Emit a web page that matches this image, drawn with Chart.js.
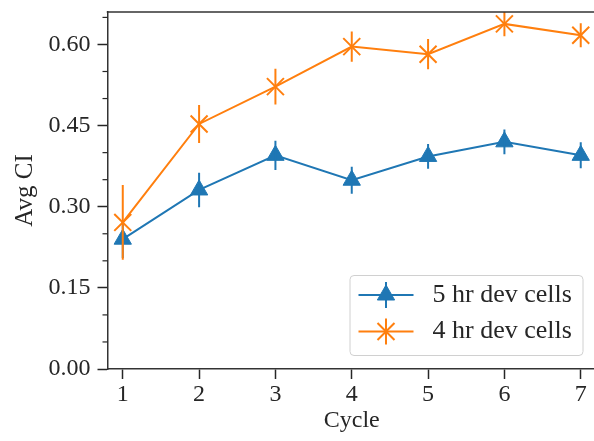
<!DOCTYPE html>
<html><head><meta charset="utf-8">
<script src="https://cdn.jsdelivr.net/npm/chart.js@4/dist/chart.umd.min.js"></script>
<style>html,body{margin:0;padding:0;overflow:hidden;background:#fff}
#wrap{width:598px;height:441px;position:relative}</style></head>
<body><div id="wrap"><canvas id="c" width="598" height="441"></canvas></div>
<script>
// ---- data ----
const cycles = [1, 2, 3, 4, 5, 6, 7];
const mean5hr = [0.240, 0.331, 0.395, 0.349, 0.393, 0.420, 0.395];
const err5hr  = [0.035, 0.032, 0.027, 0.025, 0.023, 0.023, 0.024];
const mean4hr = [0.271, 0.453, 0.522, 0.596, 0.582, 0.638, 0.617];
const err4hr  = [0.069, 0.035, 0.033, 0.028, 0.028, 0.023, 0.022];
const seriesNames = ['5 hr dev cells', '4 hr dev cells'];
const xTicks = [1, 2, 3, 4, 5, 6, 7];
const yTicks = [0.00, 0.15, 0.30, 0.45, 0.60];
const yMinorTicks = [0.05, 0.10, 0.20, 0.25, 0.35, 0.40, 0.50, 0.55, 0.65];
const xTitle = 'Cycle';
const yTitle = 'Avg CI';

// ---- style ----
const INK = '#262626';
const SPINE = '#333333';
const FONT = "'Liberation Serif', 'Times New Roman', serif";
const BLUE = '#1f77b4', ORANGE = '#ff7f0e';
const errorsByIndex = [err5hr, err4hr];

function drawMarker(ctx, style, r, bw, color, x, y) {
  if (Chart.helpers && Chart.helpers.drawPoint) {
    ctx.fillStyle = color; ctx.strokeStyle = color; ctx.lineWidth = bw;
    Chart.helpers.drawPoint(ctx, {pointStyle: style, radius: r, borderWidth: bw, rotation: 0}, x, y);
  }
}

const errorBarPlugin = {
  id: 'errorBars',
  afterDatasetDraw(chart, args) {
    const ds = chart.data.datasets[args.index];
    const errs = errorsByIndex[args.index];
    const ys = chart.scales.y, ca = chart.chartArea, ctx = chart.ctx;
    ctx.save();
    ctx.beginPath(); ctx.rect(ca.left, ca.top, ca.right - ca.left, ca.bottom - ca.top); ctx.clip();
    ctx.strokeStyle = ds.borderColor; ctx.lineWidth = 2;
    args.meta.data.forEach((pt, i) => {
      const v = ds.data[i].y, e = errs[i];
      ctx.beginPath();
      ctx.moveTo(pt.x, ys.getPixelForValue(v + e));
      ctx.lineTo(pt.x, ys.getPixelForValue(v - e));
      ctx.stroke();
    });
    ctx.restore();
  }
};

const axesExtrasPlugin = {
  id: 'axesExtras',
  afterDraw(chart) {
    const ctx = chart.ctx, ca = chart.chartArea, ys = chart.scales.y;
    ctx.save();
    // top spine
    ctx.strokeStyle = SPINE; ctx.lineWidth = 1.5;
    ctx.beginPath(); ctx.moveTo(ca.left - 0.75, ca.top); ctx.lineTo(ca.right, ca.top); ctx.stroke();
    // minor ticks
    ctx.strokeStyle = INK; ctx.lineWidth = 1.2;
    yMinorTicks.forEach(v => {
      const py = ys.getPixelForValue(v);
      ctx.beginPath(); ctx.moveTo(ca.left - 5, py); ctx.lineTo(ca.left, py); ctx.stroke();
    });
    ctx.restore();
  }
};

const legendPlugin = {
  id: 'mplLegend',
  afterDraw(chart) {
    const ctx = chart.ctx, ca = chart.chartArea;
    const w = 233, h = 80;
    const x0 = ca.right - 13.5 - w, y0 = ca.bottom - 14 - h;
    ctx.save();
    ctx.beginPath();
    ctx.roundRect(x0 + 0.5, y0 + 0.5, w, h, 4);
    ctx.fillStyle = 'rgba(255,255,255,0.8)'; ctx.fill();
    ctx.strokeStyle = '#d0d0d0'; ctx.lineWidth = 1; ctx.stroke();
    const rows = [y0 + 20, y0 + 56.5];
    chart.data.datasets.forEach((ds, i) => {
      const cy = rows[i];
      const lx0 = x0 + 9, lx1 = x0 + 64, cx = (lx0 + lx1) / 2;
      ctx.strokeStyle = ds.borderColor; ctx.lineWidth = ds.borderWidth;
      ctx.beginPath(); ctx.moveTo(lx0, cy); ctx.lineTo(lx1, cy); ctx.stroke();
      ctx.lineWidth = 2;
      ctx.beginPath(); ctx.moveTo(cx, cy - 13); ctx.lineTo(cx, cy + 13); ctx.stroke();
      drawMarker(ctx, ds.pointStyle, ds.pointRadius, ds.pointBorderWidth, ds.borderColor, cx, cy);
      ctx.fillStyle = INK;
      ctx.font = '26px ' + FONT;
      ctx.textBaseline = 'middle'; ctx.textAlign = 'left';
      ctx.fillText(ds.label, x0 + 83, cy);
    });
    ctx.restore();
  }
};

const tickFont = {family: FONT, size: 24};

new Chart(document.getElementById('c'), {
  type: 'line',
  data: {
    datasets: [
      {
        label: seriesNames[0],
        data: cycles.map((c, i) => ({x: c, y: mean5hr[i]})),
        borderColor: BLUE, backgroundColor: BLUE,
        pointStyle: 'triangle', pointRadius: 10, pointBorderWidth: 1,
        pointBackgroundColor: BLUE, pointBorderColor: BLUE,
        borderWidth: 2, tension: 0, order: 2
      },
      {
        label: seriesNames[1],
        data: cycles.map((c, i) => ({x: c, y: mean4hr[i]})),
        borderColor: ORANGE, backgroundColor: ORANGE,
        pointStyle: 'crossRot', pointRadius: 12, pointBorderWidth: 2,
        pointBackgroundColor: ORANGE, pointBorderColor: ORANGE,
        borderWidth: 2, tension: 0, order: 1
      }
    ]
  },
  options: {
    responsive: false,
    animation: false,
    devicePixelRatio: 1,
    layout: {autoPadding: false, padding: {left: 0, top: 12, right: 2, bottom: 0}},
    plugins: {legend: {display: false}, tooltip: {enabled: false}},
    scales: {
      x: {
        type: 'linear', min: 0.8, max: 7.2,
        afterBuildTicks: s => { s.ticks = xTicks.map(v => ({value: v})); },
        afterFit: s => { s.height = 72; s.paddingLeft = 0; s.paddingRight = 0; },
        grid: {drawOnChartArea: false, drawTicks: true, tickLength: 10, tickWidth: 1.5, tickColor: INK},
        border: {display: true, color: SPINE, width: 1.5},
        ticks: {font: tickFont, color: INK, padding: 1, maxRotation: 0, autoSkip: false,
                callback: v => String(v)},
        title: {display: true, text: xTitle, font: tickFont, color: INK, padding: {top: 0, bottom: 6}}
      },
      y: {
        type: 'linear', min: 0, max: 0.66,
        afterBuildTicks: s => { s.ticks = yTicks.map(v => ({value: v})); },
        afterFit: s => { s.width = 107.5; s.paddingTop = 0; s.paddingBottom = 0; },
        grid: {drawOnChartArea: false, drawTicks: true, tickLength: 10, tickWidth: 1.5, tickColor: INK},
        border: {display: true, color: SPINE, width: 1.5},
        ticks: {font: tickFont, color: INK, padding: 7, callback: v => Number(v).toFixed(2)},
        title: {display: true, text: yTitle, font: {family: FONT, size: 25}, color: INK, padding: {top: 10, bottom: 0}}
      }
    }
  },
  plugins: [errorBarPlugin, axesExtrasPlugin, legendPlugin]
});
</script>
</body></html>
